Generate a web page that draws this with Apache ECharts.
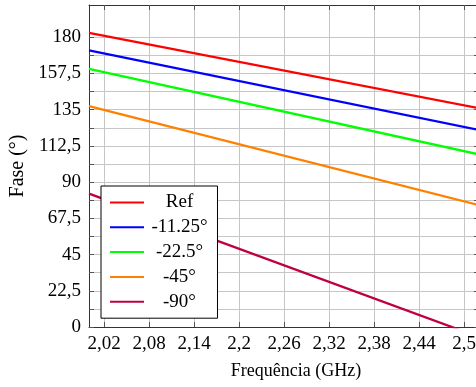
<!DOCTYPE html>
<html>
<head>
<meta charset="utf-8">
<script src="https://cdn.jsdelivr.net/npm/echarts@6/dist/echarts.min.js"></script>
<style>
  html, body { margin: 0; padding: 0; background: #fff; }
  #chart { width: 476px; height: 387px; }
</style>
</head>
<body>
<div id="chart"></div>
<script>
// frequency (GHz) at the two ends of the plotted range
const freq = [2.0, 2.52];
const seriesNames = ['Ref', '-11.25°', '-22.5°', '-45°', '-90°'];
const phaseRef = [182.7, 135.9];
const phase1125 = [171.8, 122.4];
const phase225 = [160.4, 107.2];
const phase45 = [137.2, 75.7];
const phase90 = [82.8, -6.2];

const xTicks = [2.02, 2.08, 2.14, 2.2, 2.26, 2.32, 2.38, 2.44, 2.5];
const yTicks = [0, 11.25, 22.5, 33.75, 45, 56.25, 67.5, 78.75, 90, 101.25, 112.5, 123.75, 135, 146.25, 157.5, 168.75, 180];
const yLabels = [0, 22.5, 45, 67.5, 90, 112.5, 135, 157.5, 180];

const colors = ['#ff0000', '#0000ff', '#00ff00', '#ff8000', '#bf0040'];
const font = 'Liberation Serif';
const comma = v => String(v).replace('.', ',');

const chart = echarts.init(document.getElementById('chart'));

const allData = [phaseRef, phase1125, phase225, phase45, phase90];
const series = allData.map((vals, i) => ({
  name: seriesNames[i],
  type: 'line',
  data: freq.map((f, j) => [f, vals[j]]),
  symbol: 'none',
  clip: true,
  color: colors[i],
  lineStyle: { width: 2.3, color: colors[i] },
  z: 5 - i
}));

const gridLine = { show: true, lineStyle: { color: '#c6c6c6', width: 1 } };
const tickStyle = { inside: true, length: 5, lineStyle: { color: '#555' } };

const options = {
  animation: false,
  backgroundColor: '#fff',
  grid: {
    left: 89,
    top: 5,
    width: 390,
    height: 322,
    outerBoundsMode: 'none'
  },
  xAxis: [
    {
      type: 'value',
      min: 2.0,
      max: 2.52,
      position: 'bottom',
      name: 'Frequência (GHz)',
      nameLocation: 'middle',
      nameGap: 35,
      nameTextStyle: { fontFamily: font, fontSize: 18, color: '#000', padding: [0, 0, 0, 24] },
      axisLine: { show: true, onZero: false, lineStyle: { color: '#333', width: 1 } },
      axisTick: Object.assign({ customValues: xTicks }, tickStyle),
      axisLabel: {
        customValues: xTicks,
        formatter: comma,
        fontFamily: font,
        fontSize: 19,
        color: '#000',
        margin: 8
      },
      splitLine: gridLine
    },
    {
      type: 'value',
      min: 2.0,
      max: 2.52,
      position: 'top',
      axisLine: { show: true, onZero: false, lineStyle: { color: '#333', width: 1 } },
      axisTick: Object.assign({ customValues: xTicks }, tickStyle),
      axisLabel: { show: false },
      splitLine: { show: false }
    }
  ],
  yAxis: [
    {
      type: 'value',
      min: 0,
      max: 200,
      position: 'left',
      name: 'Fase (°)',
      nameLocation: 'middle',
      nameGap: 60,
      nameTextStyle: { fontFamily: font, fontSize: 20, color: '#000' },
      axisLine: { show: true, onZero: false, lineStyle: { color: '#333', width: 1 } },
      axisTick: Object.assign({ customValues: yTicks }, tickStyle),
      axisLabel: {
        customValues: yLabels,
        formatter: comma,
        fontFamily: font,
        fontSize: 19,
        color: '#000',
        margin: 8
      },
      splitLine: gridLine
    },
    {
      type: 'value',
      min: 0,
      max: 200,
      position: 'right',
      axisLine: { show: true, onZero: false, lineStyle: { color: '#333', width: 1 } },
      axisTick: Object.assign({ customValues: yTicks }, tickStyle),
      axisLabel: { show: false },
      splitLine: { show: false }
    }
  ],
  legend: {
    orient: 'vertical',
    left: 101,
    top: 186,
    itemWidth: 34,
    itemHeight: 14,
    itemGap: 5.8,
    padding: [7, 10, 7, 8],
    itemStyle: { opacity: 0 },
    backgroundColor: '#fff',
    borderColor: '#000',
    borderWidth: 1,
    borderRadius: 0,
    formatter: name => '{t|' + name + '}',
    textStyle: {
      rich: {
        t: { width: 61, align: 'center', fontFamily: font, fontSize: 19, color: '#000' }
      }
    },
    data: seriesNames
  },
  series: series
}

chart.setOption(options);
</script>
</body>
</html>
